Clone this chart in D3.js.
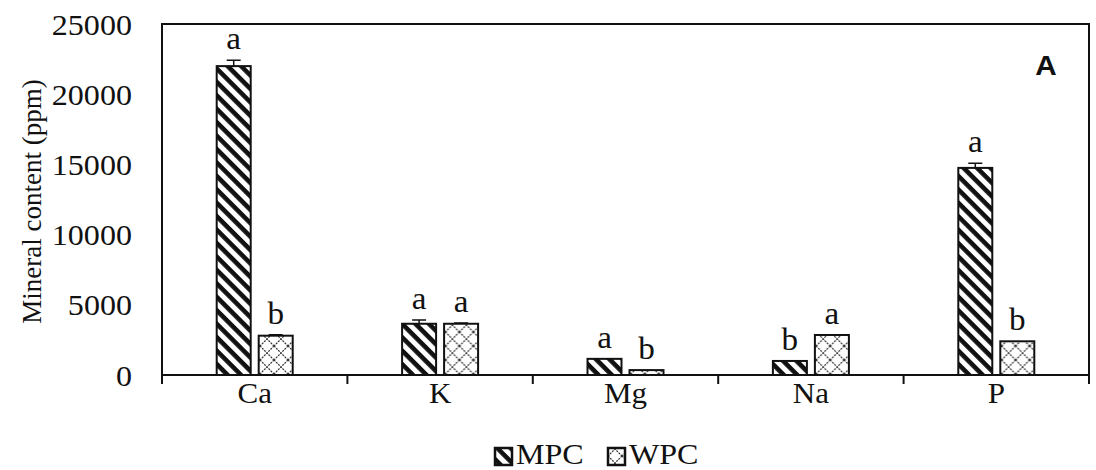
<!DOCTYPE html>
<html>
<head>
<meta charset="utf-8">
<script src="https://cdn.jsdelivr.net/npm/d3@7"></script>
<style>
  body { margin: 0; background: #fff; }
  text { font-family: "Liberation Serif", "Times New Roman", serif; fill: #111; }
</style>
</head>
<body>
<div id="chart"></div>
<script>
const minerals = ["Ca", "K", "Mg", "Na", "P"];
const series = ["MPC", "WPC"];
const mpcValues = [22000, 3650, 1150, 1000, 14750];
const wpcValues = [2800, 3650, 350, 2850, 2400];
const mpcErrors = [420, 270, 0, 0, 330];
const wpcErrors = [60, 60, 0, 0, 0];
const mpcLetters = ["a", "a", "a", "b", "a"];
const wpcLetters = ["b", "a", "b", "a", "b"];
const yTicks = [0, 5000, 10000, 15000, 20000, 25000];

const margin = {top: 24, right: 7, bottom: 95, left: 162},
    width = 1096 - margin.left - margin.right,
    height = 470 - margin.top - margin.bottom;

// the original figure is stretched sideways a little, so horizontal text gets widened
const stretch = 1.07;
function place(x, y, s) {
    return `translate(${x},${y}) scale(${s || stretch},1)`;
}

const svg = d3.select("#chart")
    .append("svg")
    .attr("width", 1096)
    .attr("height", 470);

// patterns
const defs = svg.append("defs");
const stripes = defs.append("pattern")
    .attr("id", "stripes")
    .attr("patternUnits", "userSpaceOnUse")
    .attr("width", 9.5).attr("height", 9.5)
    .attr("patternTransform", "rotate(45)");
stripes.append("rect").attr("width", 9.5).attr("height", 9.5).attr("fill", "#fff");
stripes.append("rect").attr("width", 9.5).attr("height", 4.6).attr("fill", "#111");

const cross = defs.append("pattern")
    .attr("id", "cross")
    .attr("patternUnits", "userSpaceOnUse")
    .attr("width", 14).attr("height", 14);
cross.append("rect").attr("width", 14).attr("height", 14).attr("fill", "#fff");
cross.append("path")
    .attr("d", "M0,0L14,14M14,0L0,14")
    .attr("stroke", "#333").attr("stroke-width", 1.2)
    .attr("stroke-dasharray", "2,1");

const fills = {MPC: "url(#stripes)", WPC: "url(#cross)"};

const g = svg.append("g")
    .attr("transform", `translate(${margin.left}, ${margin.top})`);

const x = d3.scaleBand()
    .domain(minerals)
    .range([0, width]);

const y = d3.scaleLinear()
    .domain([0, 25000])
    .range([height, 0]);

const data = minerals.map((m, i) => ({
    mineral: m,
    bars: [
        {key: "MPC", value: mpcValues[i], err: mpcErrors[i], letter: mpcLetters[i]},
        {key: "WPC", value: wpcValues[i], err: wpcErrors[i], letter: wpcLetters[i]}
    ]
}));

const barW = 34, gap = 8;
function barX(d, i) {
    return i === 0 ? x.bandwidth() / 2 - gap / 2 - barW : x.bandwidth() / 2 + gap / 2;
}

// plot border
g.append("rect")
    .attr("width", width)
    .attr("height", height)
    .attr("fill", "none")
    .attr("stroke", "#111")
    .attr("stroke-width", 2);

// Y axis labels
g.append("g")
    .selectAll("text")
    .data(yTicks)
    .enter()
    .append("text")
    .attr("transform", d => place(-30, y(d)))
    .attr("dy", "0.35em")
    .attr("text-anchor", "end")
    .style("font-size", "30px")
    .text(d => d);

// X axis ticks
g.append("g")
    .selectAll("line")
    .data(d3.range(minerals.length + 1))
    .enter()
    .append("line")
    .attr("x1", d => d * x.step())
    .attr("x2", d => d * x.step())
    .attr("y1", height)
    .attr("y2", height + 9)
    .attr("stroke", "#111")
    .attr("stroke-width", 2);

g.append("g")
    .selectAll("text")
    .data(minerals)
    .enter()
    .append("text")
    .attr("transform", d => place(x(d) + x.bandwidth() / 2, height + 28))
    .attr("text-anchor", "middle")
    .style("font-size", "29px")
    .text(d => d);

// bars
const groups = g.append("g")
    .selectAll("g")
    .data(data)
    .enter()
    .append("g")
    .attr("transform", d => `translate(${x(d.mineral)},0)`);

groups.selectAll("rect")
    .data(d => d.bars)
    .enter()
    .append("rect")
    .attr("x", barX)
    .attr("y", d => y(d.value))
    .attr("width", barW)
    .attr("height", d => height - y(d.value))
    .attr("fill", d => fills[d.key])
    .attr("stroke", "#111")
    .attr("stroke-width", 2);

// error bars
groups.selectAll(".err")
    .data(d => d.bars.filter(b => b.err > 0).map(b => ({...b, i: b.key === "MPC" ? 0 : 1})))
    .enter()
    .append("path")
    .attr("class", "err")
    .attr("d", d => {
        const cx = barX(d, d.i) + barW / 2;
        return `M${cx},${y(d.value)}V${y(d.value + d.err)}M${cx - 7},${y(d.value + d.err)}H${cx + 7}`;
    })
    .attr("stroke", "#111")
    .attr("stroke-width", 1.5)
    .attr("fill", "none");

// significance letters
groups.selectAll(".letter")
    .data(d => d.bars)
    .enter()
    .append("text")
    .attr("class", "letter")
    .attr("transform", (d, i) => place(barX(d, i) + barW / 2, y(d.value + d.err) - 11))
    .attr("text-anchor", "middle")
    .style("font-size", "31px")
    .text(d => d.letter);

// Y axis title
svg.append("text")
    .attr("transform", `translate(41, ${margin.top + height / 2 + 2}) rotate(-90)`)
    .attr("text-anchor", "middle")
    .style("font-size", "27px")
    .text("Mineral content (ppm)");

// panel label
svg.append("text")
    .attr("transform", place(1046, 75, 1.1))
    .attr("text-anchor", "middle")
    .style("font-family", "'Liberation Sans', Arial, sans-serif")
    .style("font-weight", "bold")
    .style("font-size", "27px")
    .text("A");

// legend
const legend = svg.append("g")
    .attr("transform", "translate(495, 456)");
const legendItems = legend.selectAll("g")
    .data(series)
    .enter()
    .append("g")
    .attr("transform", (d, i) => `translate(${i * 113}, 0)`);
legendItems.append("rect")
    .attr("x", 0).attr("y", -8)
    .attr("width", 17).attr("height", 17)
    .attr("fill", d => fills[d])
    .attr("stroke", "#111")
    .attr("stroke-width", 2.5);
legendItems.append("text")
    .attr("transform", place(21, 8))
    .style("font-size", "30px")
    .text(d => d);
</script>
</body>
</html>
